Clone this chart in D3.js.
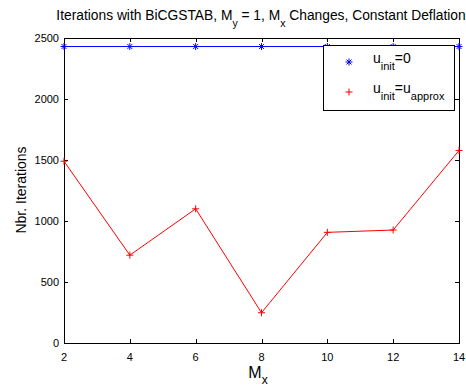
<!DOCTYPE html>
<html>
<head>
<meta charset="utf-8">
<script src="https://cdn.jsdelivr.net/npm/d3@7"></script>
<style>
  html, body { margin: 0; padding: 0; background: #fff; }
  svg { display: block; font-family: "Liberation Sans", Arial, sans-serif; }
</style>
</head>
<body>
<svg id="chart" width="466" height="388"></svg>
<script>
// Subdomain count along x and iteration counts for both initial guesses
const mx = [2, 4, 6, 8, 10, 12, 14];
const itersZero = [2430, 2430, 2430, 2430, 2430, 2430, 2430];
const itersApprox = [1490, 720, 1100, 248, 907, 926, 1578];
const yTicks = [0, 500, 1000, 1500, 2000, 2500];
const xTicks = [2, 4, 6, 8, 10, 12, 14];

const svg = d3.select("#chart");
const m = { left: 64, right: 459, top: 38, bottom: 343 };

const x = d3.scaleLinear().domain([2, 14]).range([m.left, m.right]);
const y = d3.scaleLinear().domain([0, 2500]).range([m.bottom, m.top]);

// Axes box with inward ticks on all four sides
const tickLen = 4;
const axisG = svg.append("g").attr("stroke", "#000").attr("stroke-width", 1).attr("fill", "none");
axisG.append("rect")
  .attr("x", m.left + 0.5).attr("y", m.top + 0.5)
  .attr("width", m.right - m.left).attr("height", m.bottom - m.top);

xTicks.forEach(t => {
  const px = Math.round(x(t)) + 0.5;
  axisG.append("line").attr("x1", px).attr("x2", px).attr("y1", m.bottom).attr("y2", m.bottom - tickLen);
  axisG.append("line").attr("x1", px).attr("x2", px).attr("y1", m.top).attr("y2", m.top + tickLen);
});
yTicks.forEach(t => {
  const py = Math.round(y(t)) + 0.5;
  axisG.append("line").attr("x1", m.left).attr("x2", m.left + tickLen).attr("y1", py).attr("y2", py);
  axisG.append("line").attr("x1", m.right).attr("x2", m.right - tickLen).attr("y1", py).attr("y2", py);
});

// Tick labels
svg.append("g").selectAll("text").data(xTicks).join("text")
  .attr("x", d => x(d)).attr("y", 361)
  .attr("text-anchor", "middle").attr("font-size", 11).attr("fill", "#000")
  .text(d => d);
svg.append("g").selectAll("text").data(yTicks).join("text")
  .attr("x", 59).attr("y", d => y(d) + 4)
  .attr("text-anchor", "end").attr("font-size", 11).attr("fill", "#000")
  .text(d => d);

// Series lines
const line = d3.line().x((d, i) => x(mx[i])).y(d => y(d));
svg.append("path").datum(itersZero).attr("d", line)
  .attr("fill", "none").attr("stroke", "#0000ff").attr("stroke-width", 1);
svg.append("path").datum(itersApprox).attr("d", line)
  .attr("fill", "none").attr("stroke", "#ff0000").attr("stroke-width", 1);

// Marker shapes
function star(g, cx, cy, r, color) {
  const p = [[-r, 0, r, 0], [0, -r, 0, r], [-r * 0.7, -r * 0.7, r * 0.7, r * 0.7], [-r * 0.7, r * 0.7, r * 0.7, -r * 0.7]];
  p.forEach(s => g.append("line")
    .attr("x1", cx + s[0]).attr("y1", cy + s[1]).attr("x2", cx + s[2]).attr("y2", cy + s[3])
    .attr("stroke", color).attr("stroke-width", 1));
}
function plus(g, cx, cy, r, color) {
  g.append("line").attr("x1", cx - r).attr("x2", cx + r).attr("y1", cy).attr("y2", cy)
    .attr("stroke", color).attr("stroke-width", 1);
  g.append("line").attr("x1", cx).attr("x2", cx).attr("y1", cy - r).attr("y2", cy + r)
    .attr("stroke", color).attr("stroke-width", 1);
}
const mk = svg.append("g");
itersZero.forEach((v, i) => star(mk, x(mx[i]), y(v), 3.5, "#0000ff"));
itersApprox.forEach((v, i) => plus(mk, x(mx[i]), y(v), 3.5, "#ff0000"));

// Legend
const lg = svg.append("g");
lg.append("rect").attr("x", 323.5).attr("y", 45.5).attr("width", 131).attr("height", 65)
  .attr("fill", "#fff").attr("stroke", "#000").attr("stroke-width", 1);
star(lg, 349, 62, 3.5, "#0000ff");
plus(lg, 349, 92, 3.5, "#ff0000");
const t1 = lg.append("text").attr("x", 373).attr("y", 63).attr("font-size", 14).attr("fill", "#000");
t1.append("tspan").text("u");
t1.append("tspan").attr("dy", 7).attr("font-size", 11).text("init");
t1.append("tspan").attr("dy", -7).text("=0");
const t2 = lg.append("text").attr("x", 373).attr("y", 93).attr("font-size", 14).attr("fill", "#000");
t2.append("tspan").text("u");
t2.append("tspan").attr("dy", 7).attr("font-size", 11).text("init");
t2.append("tspan").attr("dy", -7).text("=u");
t2.append("tspan").attr("dy", 7).attr("font-size", 11).text("approx");

// Title
const title = svg.append("text").attr("x", 261).attr("y", 20)
  .attr("text-anchor", "middle").attr("font-size", 13.8).attr("fill", "#000");
title.append("tspan").text("Iterations with BiCGSTAB, M");
title.append("tspan").attr("dy", 7).attr("font-size", 10.5).text("y");
title.append("tspan").attr("dy", -7).text(" = 1, M");
title.append("tspan").attr("dy", 7).attr("font-size", 10.5).text("x");
title.append("tspan").attr("dy", -7).text(" Changes, Constant Deflation");

// Axis labels
const xl = svg.append("text").attr("x", 258).attr("y", 378)
  .attr("text-anchor", "middle").attr("font-size", 16).attr("fill", "#000");
xl.append("tspan").text("M");
xl.append("tspan").attr("dy", 6).attr("font-size", 12).text("x");

svg.append("text").attr("transform", "translate(26,190) rotate(-90)")
  .attr("text-anchor", "middle").attr("font-size", 14).attr("fill", "#000")
  .text("Nbr. Iterations");
</script>
</body>
</html>
